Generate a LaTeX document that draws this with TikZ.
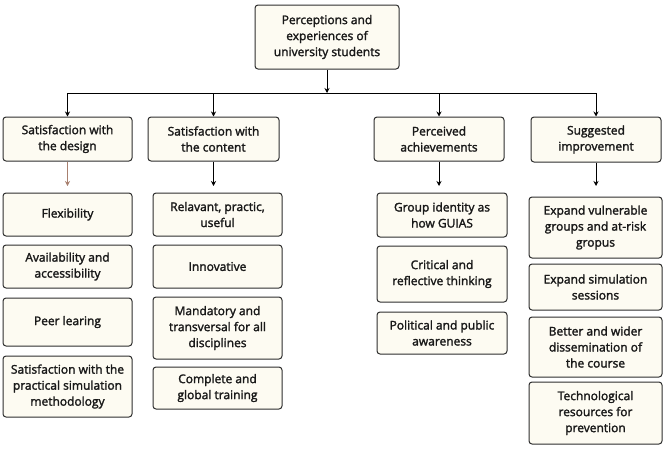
\documentclass[tikz,border=0pt]{standalone}
\usepackage{fontspec}
\setmainfont{Open Sans}[FakeBold=2]
\usetikzlibrary{arrows.meta}
\definecolor{cream}{HTML}{FDFBF2}
\definecolor{edge}{HTML}{2E2E2E}
\definecolor{brownarrow}{HTML}{A8806F}
\begin{document}
\begin{tikzpicture}[x=1pt,y=-1pt,
  box/.style={draw=edge, fill=cream, rounded corners=3pt, line width=1pt,
    align=center, inner sep=0pt, text=black!90,
    font=\fontsize{12}{16}\selectfont},
  conn/.style={draw=black, line width=1pt},
  arr/.style={conn, -{Stealth[length=5pt,width=5pt]}}]
\useasboundingbox (0,0) rectangle (666,448);
% top
\node[box, minimum width=144pt, minimum height=64pt] (top) at (327,37)
  {Perceptions and\\experiences of\\university students};
% level 2
\node[box, minimum width=129pt, minimum height=44pt] (b1) at (67.5,139) {Satisfaction with\\the design};
\node[box, minimum width=131pt, minimum height=44pt] (b2) at (213.5,139) {Satisfaction with\\the content};
\node[box, minimum width=130pt, minimum height=44pt] (b3) at (439,139) {Perceived\\achievements};
\node[box, minimum width=130pt, minimum height=45pt] (b4) at (596,139.5) {Suggested\\improvement};
% level 3 col 1
\node[box, minimum width=129pt, minimum height=43pt] (c11) at (67.5,214.5) {Flexibility};
\node[box, minimum width=129pt, minimum height=43pt] (c12) at (67.5,266.5) {Availability and\\accessibility};
\node[box, minimum width=129pt, minimum height=48pt] (c13) at (67.5,322) {Peer learing};
\node[box, minimum width=129pt, minimum height=61pt] (c14) at (67.5,386.5) {Satisfaction with the\\practical simulation\\methodology};
% col 2
\node[box, minimum width=129pt, minimum height=43pt] (c21) at (217.5,214.5) {Relavant, practic,\\useful};
\node[box, minimum width=129pt, minimum height=43pt] (c22) at (217.5,266.5) {Innovative};
\node[box, minimum width=129pt, minimum height=62pt] (c23) at (217.5,328) {Mandatory and\\transversal for all\\disciplines};
\node[box, minimum width=129pt, minimum height=42pt] (c24) at (217.5,388) {Complete and\\global training};
% col 3
\node[box, minimum width=130pt, minimum height=44pt] (c31) at (442,215) {Group identity as\\how GUIAS};
\node[box, minimum width=130pt, minimum height=56pt] (c32) at (442,274) {Critical and\\reflective thinking};
\node[box, minimum width=130pt, minimum height=42pt] (c33) at (442,333) {Political and public\\awareness};
% col 4
\node[box, minimum width=133pt, minimum height=61pt] (c41) at (595.5,227.5) {Expand vulnerable\\groups and at-risk\\gropus};
\node[box, minimum width=133pt, minimum height=46pt] (c42) at (595.5,287) {Expand simulation\\sessions};
\node[box, minimum width=133pt, minimum height=60pt] (c43) at (595.5,347) {Better and wider\\dissemination of\\the course};
\node[box, minimum width=133pt, minimum height=62pt] (c44) at (595.5,413) {Technological\\resources for\\prevention};
% connectors
\coordinate (j) at (327,93);
\draw[arr] (top.south) -- (j);
\draw[conn] (b1.north |- j) -- (b4.north |- j);
\draw[arr] (b1.north |- j) -- (b1.north);
\draw[arr] (b2.north |- j) -- (b2.north);
\draw[arr] (b3.north |- j) -- (b3.north);
\draw[arr] (b4.north |- j) -- (b4.north);
\coordinate (e1) at (67.5,186);
\coordinate (e2) at (213.5,186);
\coordinate (e3) at (439,186);
\coordinate (e4) at (596,186);
\draw[arr, draw=brownarrow] (b1.south) -- (e1);
\draw[arr] (b2.south) -- (e2);
\draw[arr] (b3.south) -- (e3);
\draw[arr] (b4.south) -- (e4);
\end{tikzpicture}
\end{document}
